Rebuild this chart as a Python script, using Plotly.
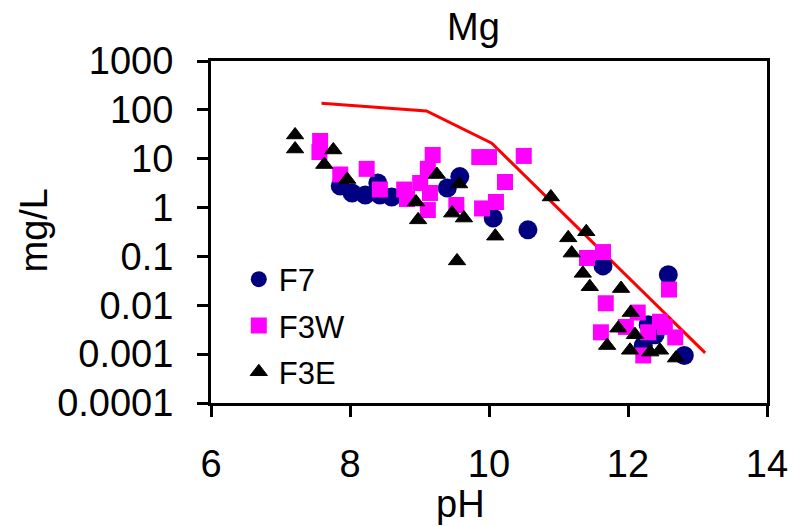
import plotly.graph_objects as go

# Mg concentration (mg/L) against pH for three sampling groups
f7_ph = [7.86, 8.03, 8.22, 8.40, 8.43, 8.60, 9.40, 9.58, 10.06, 10.56,
         11.64, 12.58, 12.29, 12.39, 12.22, 12.81]
f7_mg = [2.77, 1.99, 1.81, 3.18, 1.81, 1.65, 2.52, 4.3, 0.61, 0.35,
         0.064, 0.042, 0.0040, 0.0025, 0.0015, 0.00094]

f3w_ph = [7.57, 7.56, 7.86, 8.24, 8.43, 8.78, 8.82, 9.01, 9.15, 9.12,
          9.19, 9.12, 9.53, 9.86, 10.00, 9.90, 10.10, 10.23, 10.50, 11.41,
          11.64, 11.68, 12.59, 12.14, 11.61, 11.97, 12.29, 12.53, 12.68,
          12.22, 12.46]
f3w_mg = [23.1, 13.7, 4.75, 6.2, 2.34, 2.34, 1.50, 3.18, 1.99, 6.2,
          11.9, 0.89, 1.13, 10.8, 10.8, 0.96, 1.30, 3.34, 11.4, 0.093,
          0.123, 0.011, 0.021, 0.0071, 0.0028, 0.0036, 0.0028, 0.0036,
          0.0022, 0.00094, 0.0046]

f3e_ph = [7.21, 7.21, 7.76, 7.63, 7.96, 8.95, 8.98, 9.25, 9.57, 9.47,
          9.64, 9.54, 10.09, 10.89, 11.40, 11.14, 11.19, 11.35, 11.45,
          11.90, 12.04, 11.86, 11.70, 12.03, 12.10, 12.32, 12.46, 12.69]
f3e_mg = [30.6, 15.8, 15.1, 7.6, 3.76, 1.30, 0.56, 4.75, 3.04, 0.77,
          0.61, 0.081, 0.26, 1.65, 0.32, 0.24, 0.117, 0.045, 0.024,
          0.022, 0.0071, 0.0034, 0.0015, 0.0012, 0.0025, 0.0011, 0.0012,
          0.00083]

# solubility limit curve
limit_ph = [7.59, 9.10, 10.04, 13.11]
limit_mg = [136, 95, 20.7, 0.00106]

y_tickvals = [0.0001, 0.001, 0.01, 0.1, 1, 10, 100, 1000]
y_ticktext = ["0.0001", "0.001", "0.01", "0.1", "1", "10", "100", "1000"]

FONT = "Liberation Sans, Arial, sans-serif"

fig = go.Figure()
fig.add_trace(go.Scatter(x=limit_ph, y=limit_mg, mode="lines",
                         line=dict(color="#ff0000", width=3),
                         showlegend=False, hoverinfo="skip"))
fig.add_trace(go.Scatter(x=f7_ph, y=f7_mg, mode="markers", name="F7",
                         legendgroup="a",
                         marker=dict(symbol="circle", size=19, color="#000080")))
fig.add_trace(go.Scatter(x=f3w_ph, y=f3w_mg, mode="markers", name="F3W",
                         legendgroup="b",
                         marker=dict(symbol="square", size=16, color="#ff00ff")))
fig.add_trace(go.Scatter(x=f3e_ph, y=f3e_mg, mode="markers", name="F3E",
                         legendgroup="c",
                         marker=dict(symbol="triangle-up", size=15, color="#000000",
                                     line=dict(color="#000000", width=1))))

fig.update_layout(
    width=805, height=526,
    margin=dict(l=211, r=38, t=61, b=123),
    paper_bgcolor="white", plot_bgcolor="white",
    font=dict(family=FONT, size=38, color="#000000"),
    showlegend=True,
    legend=dict(x=0.05, y=0.44, xanchor="left", yanchor="top",
                font=dict(family=FONT, size=31, color="#000000"),
                bgcolor="rgba(0,0,0,0)", tracegroupgap=3),
    xaxis=dict(range=[6, 14], dtick=2, tick0=6, showgrid=False, zeroline=False,
               showline=True, linecolor="black", linewidth=3, mirror=True,
               ticks="outside", ticklen=11, tickwidth=3, tickcolor="black",
               ticklabelstandoff=14,
               tickfont=dict(family=FONT, size=38, color="#000000")),
    yaxis=dict(type="log", range=[-4, 3], tickvals=y_tickvals, ticktext=y_ticktext,
               showgrid=False, zeroline=False,
               showline=True, linecolor="black", linewidth=3, mirror=True,
               ticks="outside", ticklen=11, tickwidth=3, tickcolor="black",
               ticklabelstandoff=16,
               tickfont=dict(family=FONT, size=38, color="#000000")),
    annotations=[
        dict(text="Mg", xref="paper", yref="paper", x=0.473, y=1.1,
             xanchor="center", yanchor="middle", showarrow=False,
             font=dict(family=FONT, size=38, color="#000000")),
        dict(text="pH", xref="paper", yref="paper", x=0.448, y=-0.296,
             xanchor="center", yanchor="middle", showarrow=False,
             font=dict(family=FONT, size=38, color="#000000")),
        dict(text="mg/L", xref="paper", yref="paper", x=-0.318, y=0.505,
             xanchor="center", yanchor="middle", showarrow=False, textangle=-90,
             font=dict(family=FONT, size=38, color="#000000")),
    ],
)

fig.write_html("out.html")
